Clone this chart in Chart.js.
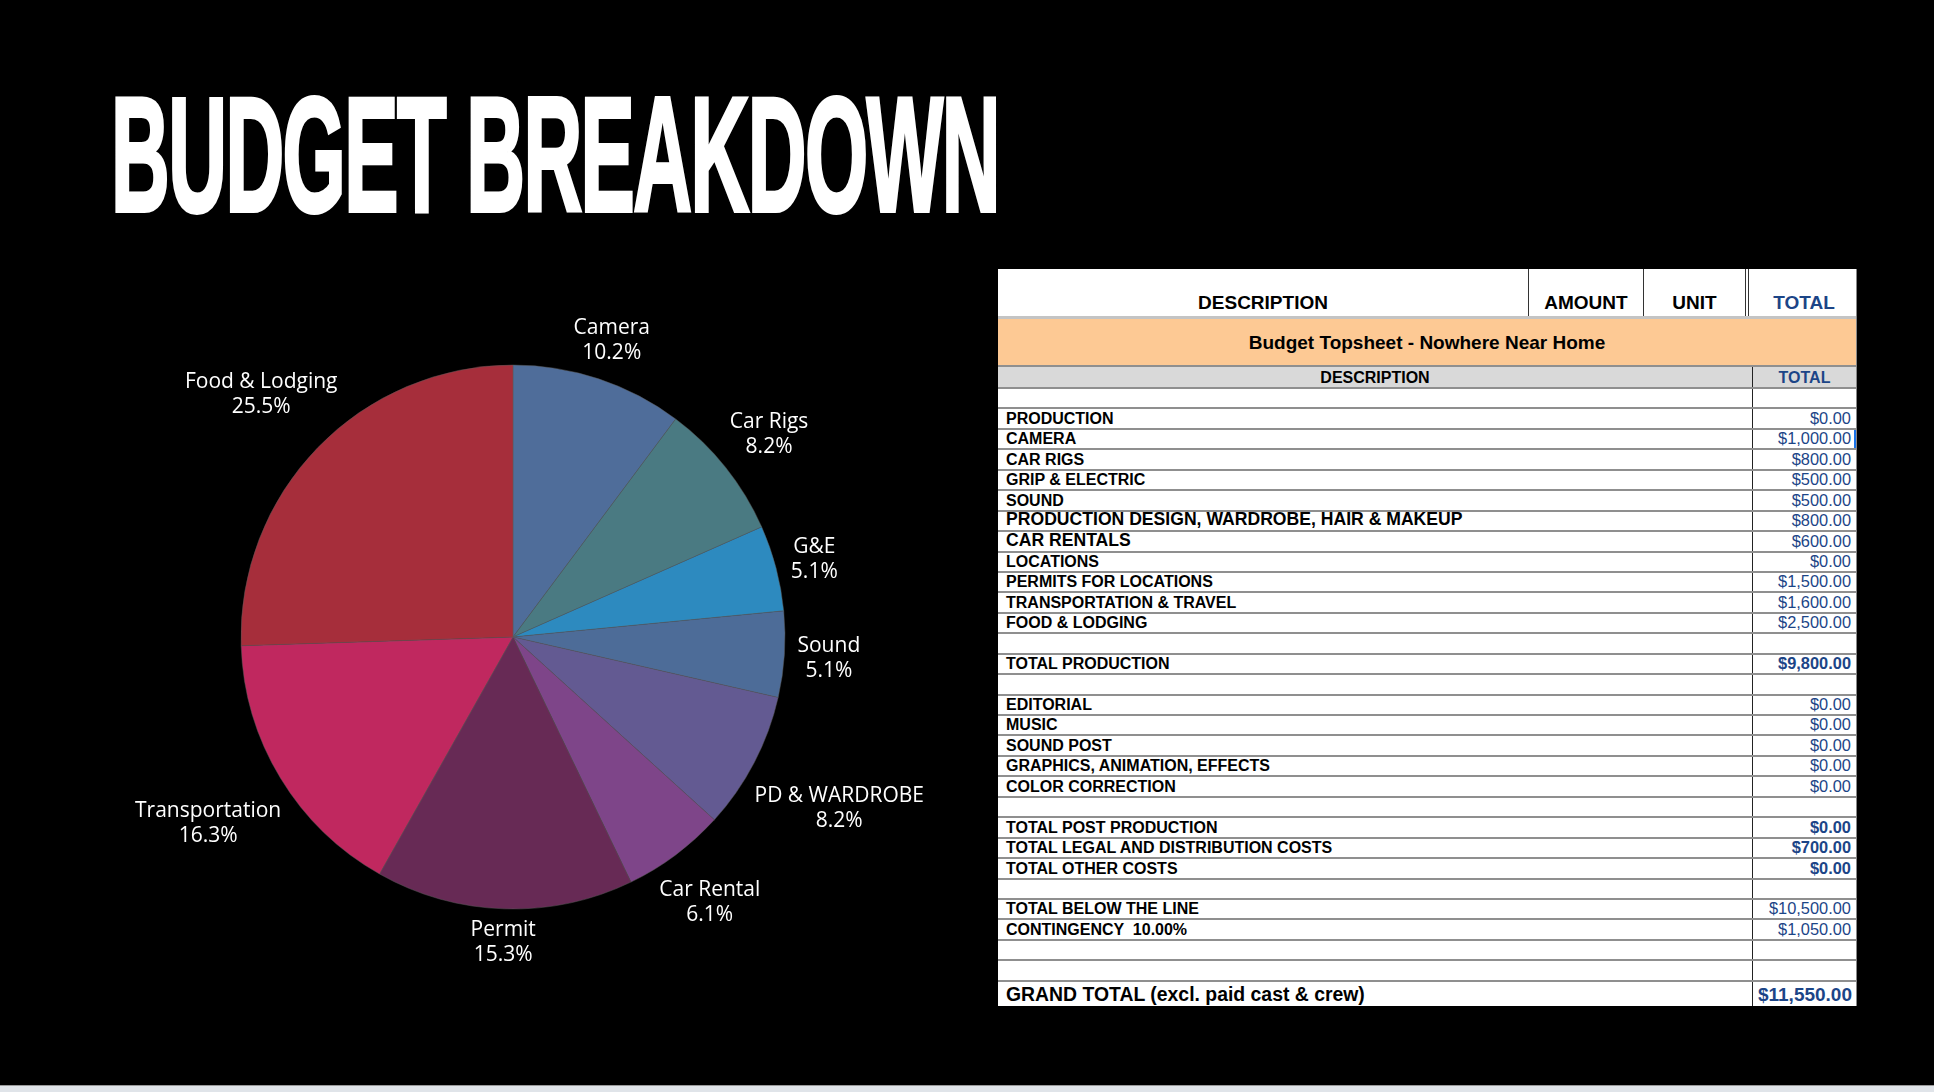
<!DOCTYPE html>
<html>
<head>
<meta charset="utf-8">
<script src="https://cdn.jsdelivr.net/npm/chart.js@4"></script>
<style>
  html,body{margin:0;padding:0;background:#000;}
  body{width:1934px;height:1092px;position:relative;overflow:hidden;font-family:"Liberation Sans",Arial,sans-serif;}
  #title{position:absolute;left:111px;top:73px;color:#fff;font-family:"Liberation Sans Narrow","Liberation Sans",sans-serif;font-weight:bold;font-size:163px;line-height:1;white-space:nowrap;letter-spacing:-3px;transform-origin:0 0;-webkit-text-stroke:4px #fff;}
  #pieWrap{position:absolute;left:13px;top:237px;width:1000px;height:800px;}
  #tbl{position:absolute;left:998px;top:269px;width:859px;background:#fff;color:#000;border-right:1px solid #888;box-sizing:border-box;}
  .row{position:relative;box-sizing:border-box;border-bottom:2px solid #8f8f8f;white-space:pre;}
  .cell{position:absolute;top:0;bottom:0;box-sizing:border-box;}
  .lbl{left:0;width:754px;padding-left:8px;font-weight:bold;font-size:16px;display:flex;align-items:flex-end;padding-bottom:0px;}
  .val{left:754px;right:0;border-left:1px solid #222;text-align:right;padding-right:5px;color:#1c4587;font-size:16.4px;display:flex;align-items:flex-end;justify-content:flex-end;padding-bottom:0px;}
  #bottomStrip{position:absolute;left:0;right:0;bottom:0;height:6px;background:#e0e4e9;border-top:1px solid #9a9a9a;}
</style>
</head>
<body>
<div id="title">BUDGET BREAKDOWN</div>
<div id="pieWrap"><canvas id="pie" width="1000" height="800"></canvas></div>
<div id="tbl"></div>
<div id="bottomStrip"></div>
<script>
// ---- Pie data ----
const categories = ["Camera","Car Rigs","G&E","Sound","PD & WARDROBE","Car Rental","Permit","Transportation","Food & Lodging"];
const values = [1000, 800, 500, 500, 800, 600, 1500, 1600, 2500];
const sliceColors = ["#4f6d9a","#4a7a82","#2d8abf","#4d6c98","#635a92","#7e4589","#672a55","#c0285f","#a62e3b"];

// ---- Table data ----
const headerCols = ["DESCRIPTION","AMOUNT","UNIT","TOTAL"];
const sheetTitle = "Budget Topsheet - Nowhere Near Home";
const subHeader = ["DESCRIPTION","TOTAL"];
const tableLabels = ["",
  "PRODUCTION","CAMERA","CAR RIGS","GRIP & ELECTRIC","SOUND","PRODUCTION DESIGN, WARDROBE, HAIR & MAKEUP","CAR RENTALS","LOCATIONS","PERMITS FOR LOCATIONS","TRANSPORTATION & TRAVEL","FOOD & LODGING",
  "","TOTAL PRODUCTION","",
  "EDITORIAL","MUSIC","SOUND POST","GRAPHICS, ANIMATION, EFFECTS","COLOR CORRECTION",
  "","TOTAL POST PRODUCTION","TOTAL LEGAL AND DISTRIBUTION COSTS","TOTAL OTHER COSTS",
  "","TOTAL BELOW THE LINE","CONTINGENCY  10.00%","",""];
const tableTotals = ["",
  "$0.00","$1,000.00","$800.00","$500.00","$500.00","$800.00","$600.00","$0.00","$1,500.00","$1,600.00","$2,500.00",
  "","$9,800.00","",
  "$0.00","$0.00","$0.00","$0.00","$0.00",
  "","$0.00","$700.00","$0.00",
  "","$10,500.00","$1,050.00","",""];
const boldTotals = ["TOTAL PRODUCTION","TOTAL POST PRODUCTION","TOTAL LEGAL AND DISTRIBUTION COSTS","TOTAL OTHER COSTS"];
const largerLabels = ["PRODUCTION DESIGN, WARDROBE, HAIR & MAKEUP","CAR RENTALS"];
const grandTotalLabel = "GRAND TOTAL (excl. paid cast & crew)";
const grandTotalValue = "$11,550.00";

// ---- Title fit ----
(function(){
  const t=document.getElementById('title');
  const w=t.getBoundingClientRect().width;
  t.style.transform='scaleX('+(888/w)+')';
})();

// ---- Build table ----
(function(){
  const tbl=document.getElementById('tbl');
  let h=document.createElement('div');
  h.className='row';h.style.height='50px';h.style.borderBottom='3px solid #c4c4c4';
  const colDefs=[[0,530],[530,115],[645,102],[747,4],[754,104]];
  const headerTexts=[headerCols[0],headerCols[1],headerCols[2],"",headerCols[3]];
  headerTexts.forEach((c,i)=>{
    const d=document.createElement('div');d.className='cell';
    d.style.left=colDefs[i][0]+'px';d.style.width=colDefs[i][1]+'px';
    d.style.display='flex';d.style.alignItems='flex-end';d.style.justifyContent='center';d.style.paddingBottom='2px';
    d.style.fontWeight='bold';d.style.fontSize='19px';
    if(i>0) d.style.borderLeft='1px solid #333';
    if(i===3){d.style.borderRight='1px solid #333';}
    if(i===4){d.style.color='#1c4587';d.style.borderLeft='none';}
    d.textContent=c;h.appendChild(d);
  });
  tbl.appendChild(h);
  h=document.createElement('div');h.className='row';h.style.height='48px';h.style.background='#fdc994';
  h.style.display='flex';h.style.alignItems='center';h.style.justifyContent='center';
  h.style.fontWeight='bold';h.style.fontSize='19px';h.style.paddingTop='2px';h.textContent=sheetTitle;
  tbl.appendChild(h);
  h=document.createElement('div');h.className='row';h.style.height='22px';h.style.background='#d9d9d9';
  let a=document.createElement('div');a.className='cell lbl';a.style.justifyContent='center';a.style.paddingLeft='0';a.textContent=subHeader[0];
  let b=document.createElement('div');b.className='cell val';b.style.justifyContent='center';b.style.fontWeight='bold';b.style.fontSize='16px';b.style.paddingRight='0';b.textContent=subHeader[1];
  h.appendChild(a);h.appendChild(b);tbl.appendChild(h);
  tableLabels.forEach((lab,i)=>{
    const r=document.createElement('div');r.className='row';r.style.height='20.45px';
    const l=document.createElement('div');l.className='cell lbl';l.textContent=lab;
    if(largerLabels.includes(lab)) l.style.fontSize='17.6px';
    const v=document.createElement('div');v.className='cell val';v.textContent=tableTotals[i];
    if(boldTotals.includes(lab)) v.style.fontWeight='bold';
    if(lab==='CAMERA') v.style.boxShadow='inset -2px 0 0 #1a73e8';
    r.appendChild(l);r.appendChild(v);tbl.appendChild(r);
  });
  const g=document.createElement('div');g.className='row';g.style.height='24px';g.style.borderBottom='none';
  const gl=document.createElement('div');gl.className='cell lbl';gl.style.fontSize='19.4px';gl.textContent=grandTotalLabel;
  const gv=document.createElement('div');gv.className='cell val';gv.style.fontSize='19px';gv.style.fontWeight='bold';gv.style.paddingRight='4px';gv.textContent=grandTotalValue;
  g.appendChild(gl);g.appendChild(gv);tbl.appendChild(g);
})();

// ---- Pie chart ----
const LABEL_FONT = '21px "Open Sans"';
const LINE_H = 25, CAP_H = 15, GAP = 12;
const outLabels = {
  id:'outLabels',
  afterDatasetsDraw(chart){
    const ctx=chart.ctx, meta=chart.getDatasetMeta(0);
    const total=values.reduce((s,v)=>s+v,0);
    ctx.save();
    ctx.font=LABEL_FONT;ctx.fillStyle='#ffffff';ctx.textAlign='center';ctx.textBaseline='alphabetic';
    meta.data.forEach((arc,i)=>{
      const p=arc.getProps(['x','y','startAngle','endAngle','outerRadius'],true);
      const mid=(p.startAngle+p.endAngle)/2;
      const l1=categories[i], l2=(values[i]/total*100).toFixed(1)+'%';
      const w=Math.max(ctx.measureText(l1).width,ctx.measureText(l2).width);
      const h=LINE_H+CAP_H;
      const target=p.outerRadius+GAP;
      let d=p.outerRadius, cx=0, cy=0;
      for(;d<p.outerRadius+400;d+=0.5){
        cx=p.x+Math.cos(mid)*d; cy=p.y+Math.sin(mid)*d;
        const nx=Math.max(cx-w/2,Math.min(p.x,cx+w/2));
        const ny=Math.max(cy-h/2,Math.min(p.y,cy+h/2));
        if(Math.hypot(nx-p.x,ny-p.y)>=target) break;
      }
      const top=cy-h/2;
      ctx.fillText(l1,cx,top+CAP_H);
      ctx.fillText(l2,cx,top+CAP_H+LINE_H);
    });
    ctx.restore();
  }
};
new Chart(document.getElementById('pie'),{
  type:'pie',
  data:{labels:categories,datasets:[{data:values,backgroundColor:sliceColors,borderColor:'rgba(90,90,90,0.6)',borderWidth:0.8,radius:272}]},
  options:{
    responsive:false,animation:false,
    layout:{padding:0},
    plugins:{legend:{display:false},tooltip:{enabled:false}}
  },
  plugins:[outLabels]
});
</script>
</body>
</html>
